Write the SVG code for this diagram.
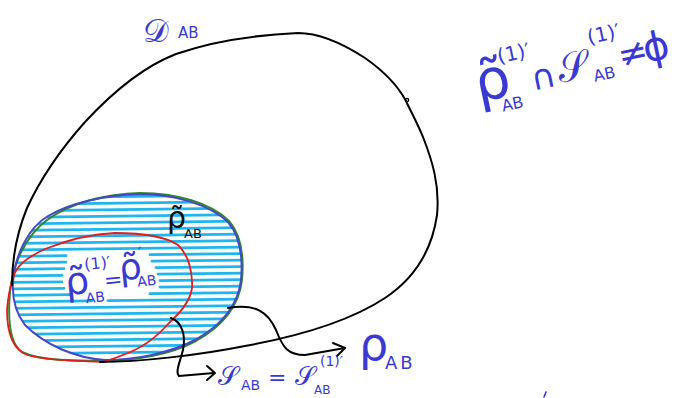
<svg xmlns="http://www.w3.org/2000/svg" width="677" height="398" viewBox="0 0 677 398">
<style>
.ink{fill:none;stroke-linecap:round;stroke-linejoin:round}
.blk{stroke:#000;stroke-width:2}
.hatch{fill:none;stroke:#1fb6f0;stroke-width:2.8;stroke-linecap:round}
.t{font-family:"DejaVu Sans",sans-serif;fill:#3a3ad2}
.tk{font-family:"DejaVu Sans",sans-serif;fill:#111}
</style>
<defs>
<clipPath id="blueClip">
<path d="M13,282 C15,255 28,228 48,216 C70,203 105,195 140,194 C175,194 210,205 228,222 C240,236 243,258 241,280 C238,305 222,325 195,340 C170,353 135,360 105,360 C75,358 45,345 25,325 C15,312 12,298 13,282 Z"/>
</clipPath>
</defs>
<rect width="677" height="398" fill="#fff"/>

<g id="hatching" clip-path="url(#blueClip)">
<path class="hatch" d="M0,198 L250,195 M0,204.5 L250,201.5 M0,211 L250,208 M0,217.5 L250,214.5 M0,224 L250,221 M0,230.5 L250,227.5 M0,237 L250,234 M0,243.5 L250,240.5 M0,250 L250,247 M0,256.5 L66,255.7 M150,254.7 L250,253.5 M0,263 L66,262.2 M152,261.2 L250,260 M0,269.5 L64,268.7 M156,267.6 L250,266.5 M0,276 L62,275.3 M158,274.1 L250,273 M0,282.5 L62,281.8 M160,280.6 L250,279.5 M0,289 L64,288.3 M160,287.1 L250,286 M0,295.5 L70,294.7 M150,293.7 L250,292.5 M0,302 L92,300.9 M108,300.7 L250,299 M0,308.5 L250,305.5 M0,315 L250,312 M0,321.5 L250,318.5 M0,328 L250,325 M0,334.5 L250,331.5 M0,341 L250,338 M0,347.5 L250,344.5 M0,354 L250,351"/>
</g>

<g id="green-set">
<path class="ink" stroke="#2a8a2a" stroke-width="2" d="M105,360.5 C75,361 40,361 22,352 C9,343 8,315 10,292 C13,262 26,236 47,220 C70,203 105,194 140,193 C176,193 211,203 229,221 C242,236 244,258 242,280 C239,306 223,326 196,341 C171,354 136,361 105,360.5 Z"/>
</g>

<g id="blue-set">
<path class="ink" stroke="#4646c6" stroke-width="2" d="M13,282 C15,255 28,228 48,216 C70,203 105,195 140,194 C175,194 210,205 228,222 C240,236 243,258 241,280 C238,305 222,325 195,340 C170,353 135,360 105,360 C75,358 45,345 25,325 C15,312 12,298 13,282 Z"/>
</g>

<g id="red-set">
<path class="ink" stroke="#e01e1e" stroke-width="1.8" d="M13,278 C16,266 26,258 45,249 C65,241 88,234 115,233 C140,233 163,235 178,245 C188,254 193,272 192,288 C190,302 180,313 170,322 C160,333 148,345 128,353 C118,357 110,360 103,362 C75,361 45,360 27,355 C12,349 7,330 7,310 C8,297 10,287 13,278 Z"/>
</g>

<g id="outer-D">
<path class="ink blk" d="M100,362 C140,362 200,355 245,346 C300,336 350,321 385,298 C415,278 432,250 437,215 C440,185 432,160 423,137 C416,120 410,110 406,101 C398,86 385,72 365,58 C345,45 322,33 298,33 C255,35 210,42 176,54 C140,68 110,95 85,122 C60,150 40,180 27,208 C16,235 12,260 12,285"/>
<circle cx="407" cy="100" r="1.6" fill="none" stroke="#000" stroke-width="1.4"/>
</g>

<g id="connectors">
<path class="ink blk" d="M171,318 C182,322 186,335 183,350 C180,362 175,372 179,376 L214,373"/>
<path class="ink blk" d="M207,366 L215,373 L207,380"/>
<path class="ink blk" d="M228,308 C255,303 268,312 276,330 C283,348 288,355 305,355 L345,348"/>
<path class="ink blk" d="M333,343 L345,348 L337,356"/>
</g>

<g id="label-D">
<text class="t" x="143" y="42" font-size="32">𝒟</text>
<text class="t" x="178" y="38" font-size="15">AB</text>
</g>

<g id="label-top-right" transform="rotate(-12 480 100)">
<text class="t" x="478" y="102" font-size="56">ρ̃</text>
<text class="t" x="506" y="68" font-size="20">(1)′</text>
<text class="t" x="500" y="116" font-size="16">AB</text>
<text class="t" x="534" y="102" font-size="34">∩</text>
<text class="t" x="562" y="100" font-size="40">𝒮</text>
<text class="t" x="598" y="68" font-size="20">(1)′</text>
<text class="t" x="596" y="106" font-size="16">AB</text>
<text class="t" x="624" y="98" font-size="36">≠</text>
<text class="t" x="650" y="98" font-size="40">ϕ</text>
</g>

<g id="label-rho-tilde">
<text class="tk" x="167" y="228" font-size="30">ρ̃</text>
<text class="tk" x="184" y="238" font-size="13">AB</text>
</g>

<g id="label-rho1" transform="rotate(-6 68 292)">
<text class="t" x="66" y="295" font-size="38">ρ̃</text>
<text class="t" x="87" y="272" font-size="16">(1)′</text>
<text class="t" x="85" y="305" font-size="14">AB</text>
<text class="t" x="105" y="292" font-size="22">=</text>
<text class="t" x="121" y="286" font-size="36">ρ̃</text>
<text class="t" x="142" y="266" font-size="16">′</text>
<text class="t" x="138" y="294" font-size="14">AB</text>
</g>

<g id="label-S">
<text class="t" x="218" y="385" font-size="26">𝒮</text>
<text class="t" x="241" y="390" font-size="14">AB</text>
<text class="t" x="268" y="385" font-size="22">=</text>
<text class="t" x="295" y="385" font-size="26">𝒮</text>
<text class="t" x="320" y="366" font-size="14">(1)′</text>
<text class="t" x="314" y="394" font-size="12">AB</text>
</g>

<g id="label-rho">
<text class="t" x="359" y="360" font-size="46">ρ</text>
<text class="t" x="385" y="369" font-size="18" letter-spacing="3">AB</text>
</g>

<path class="ink" stroke="#3a3ad2" stroke-width="1.6" d="M546,392 L544,397"/>
</svg>
